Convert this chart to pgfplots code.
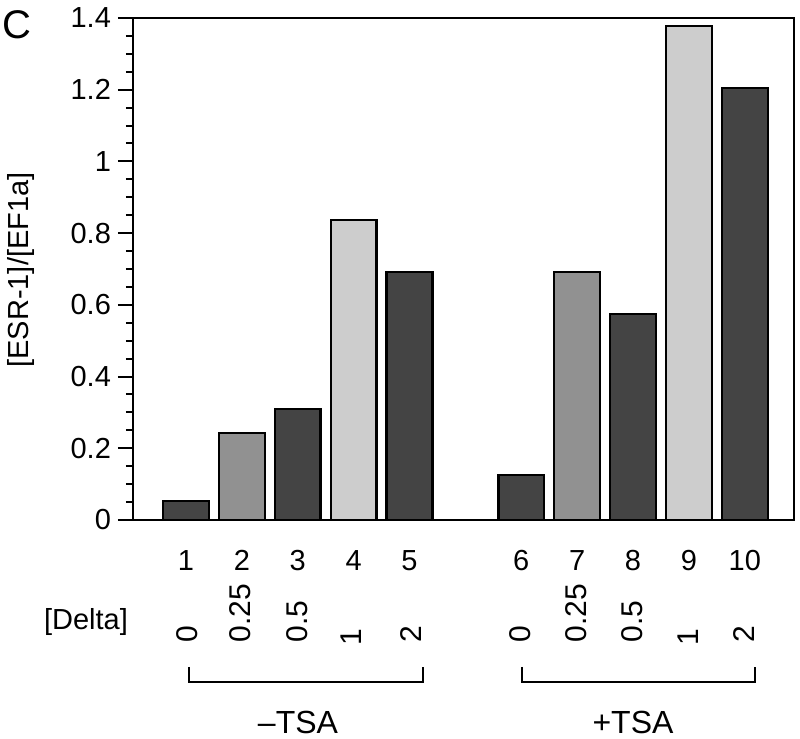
\documentclass[border=0pt]{standalone}
\usepackage{pgfplots}
\pgfplotsset{compat=1.18}
\usepackage{fontspec}
\setmainfont{Liberation Sans}
\definecolor{dk}{RGB}{68,68,68}
\definecolor{md}{RGB}{145,145,145}
\definecolor{lt}{RGB}{205,205,205}
\newcommand{\px}[2]{({#1*0.5pt},{(739-#2)*0.5pt})}
\newcommand{\lf}{\fontsize{14.5}{16}\selectfont}
\begin{document}
\begin{tikzpicture}
\useasboundingbox (0,0) rectangle (400pt,369.5pt);
\begin{axis}[
  at={(66.5pt,109.5pt)}, anchor=south west,
  width=330.5pt, height=251pt, scale only axis,
  xmin=0.052, xmax=11.88, ymin=0, ymax=1.4,
  ytick={0,0.2,0.4,0.6,0.8,1,1.2,1.4},
  minor y tick num=3,
  tick align=outside, ytick pos=left,
  major tick length=7.5pt, minor tick length=3.5pt,
  xtick={1,2,3,4,5,7,8,9,10,11},
  xticklabels={1,2,3,4,5,6,7,8,9,10},
  major x tick style={draw=none},
  xticklabel style={yshift=-4pt},
  axis line style={line width=1pt},
  every tick/.style={black, line width=1pt},
  /pgf/number format/assume math mode=true,
  tick label style={font=\lf},
  ybar, bar width=0.82,
  every axis plot/.append style={bar shift=0pt, draw=black, line width=1.2pt},
  clip=false,
]
\addplot[fill=dk] coordinates {(1,0.053) (3,0.31) (5,0.692) (7,0.125) (9,0.574) (11,1.205)};
\addplot[fill=md] coordinates {(2,0.243) (8,0.692)};
\addplot[fill=lt] coordinates {(4,0.837) (10,1.378)};
\end{axis}
% panel letter
\node[font=\fontsize{20}{24}\selectfont] at \px{17}{25} {C};
% y label
\node[font=\lf, rotate=90] at \px{21}{270} {[ESR-1]/[EF1a]};
% Delta row
\node[font=\lf] at \px{86}{622} {[Delta]};
\foreach \x/\t/\y in {187/0/643, 240/0.25/643, 297/0.5/643, 351/1/646, 411/2/643,
                      520/0/643, 576/0.25/643, 632/0.5/643, 688/1/646, 744/2/643}{
  \node[font=\fontsize{15}{17}\selectfont, rotate=90, anchor=west, inner sep=0pt] at \px{\x}{\y} {\t};
}
% brackets
\draw[line width=0.9pt] \px{189}{667} -- \px{189}{682} -- \px{423}{682} -- \px{423}{667};
\draw[line width=0.9pt] \px{522}{667} -- \px{522}{682} -- \px{755}{682} -- \px{755}{667};
\node[font=\fontsize{16}{19}\selectfont, anchor=base, inner sep=0pt, text depth=0pt] at \px{298}{734} {–TSA};
\node[font=\fontsize{16}{19}\selectfont, anchor=base, inner sep=0pt, text depth=0pt] at \px{633}{734} {+TSA};
\end{tikzpicture}
\end{document}
